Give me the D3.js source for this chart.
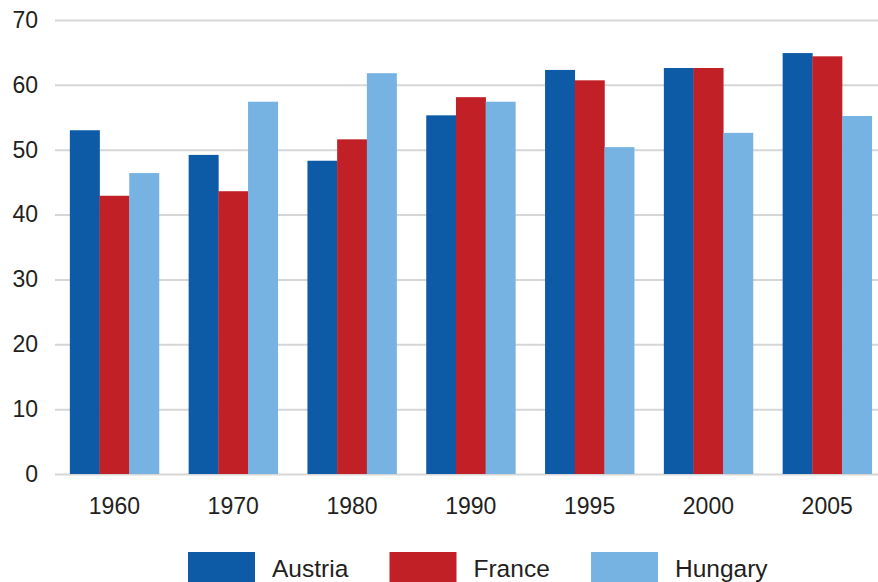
<!DOCTYPE html>
<html>
<head>
<meta charset="utf-8">
<script src="https://cdn.jsdelivr.net/npm/d3@7"></script>
<style>
  html, body { margin: 0; padding: 0; background: #fff; }
  svg { display: block; }
  text { font-family: "Liberation Sans", Arial, sans-serif; fill: #231f20; }
</style>
</head>
<body>
<svg id="chart" width="878" height="582"></svg>
<script>
const categories = ["1960", "1970", "1980", "1990", "1995", "2000", "2005"];
const seriesNames = ["Austria", "France", "Hungary"];
const austria = [53.0, 49.2, 48.3, 55.3, 62.3, 62.6, 64.9];
const france  = [42.9, 43.6, 51.6, 58.1, 60.7, 62.6, 64.4];
const hungary = [46.4, 57.4, 61.8, 57.4, 50.4, 52.6, 55.2];
const yTicks = [0, 10, 20, 30, 40, 50, 60, 70];
const colors = ["#0d5aa7", "#c02026", "#77b3e2"];

const series = [austria, france, hungary];
const svg = d3.select("#chart");

const y = d3.scaleLinear().domain([0, 70]).range([474, 20]);
const x0 = d3.scaleBand().domain(categories).range([55, 886.6]).paddingInner(0.25).paddingOuter(0.125);
const x1 = d3.scaleBand().domain(seriesNames).range([0, x0.bandwidth()]);
const color = d3.scaleOrdinal().domain(seriesNames).range(colors);

// gridlines
const yAxis = d3.axisLeft(y).tickValues(yTicks).tickSize(-(878 - 55)).tickPadding(16);
const gy = svg.append("g").attr("transform", "translate(55,0)").call(yAxis);
gy.select(".domain").remove();
gy.selectAll(".tick line").attr("stroke", "#d6d6d6").attr("stroke-width", 2);
gy.selectAll(".tick text").attr("font-size", 23).attr("fill", "#231f20")
  .attr("font-family", "'Liberation Sans', Arial, sans-serif").attr("x", -17);

// bars
const groups = svg.append("g").selectAll("g")
  .data(categories).join("g")
  .attr("transform", d => `translate(${x0(d)},0)`);
groups.selectAll("rect")
  .data((d, i) => seriesNames.map((s, j) => ({ s, v: series[j][i] })))
  .join("rect")
  .attr("x", d => x1(d.s))
  .attr("width", x1.bandwidth() + 0.3)
  .attr("y", d => y(d.v))
  .attr("height", d => y(0) - y(d.v))
  .attr("fill", d => color(d.s));

// x axis labels
const xAxis = d3.axisBottom(x0).tickSize(0).tickPadding(0);
const gx = svg.append("g").attr("transform", "translate(0,474)").call(xAxis);
gx.select(".domain").remove();
gx.selectAll(".tick text").attr("font-size", 23).attr("fill", "#231f20")
  .attr("font-family", "'Liberation Sans', Arial, sans-serif")
  .attr("dy", null).attr("y", 40);

// legend
const legend = svg.append("g").selectAll("g")
  .data(seriesNames).join("g")
  .attr("transform", (d, i) => `translate(${188 + i * 201.5},552)`);
legend.append("rect").attr("width", 67).attr("height", 30).attr("fill", d => color(d));
legend.append("text").attr("x", 84).attr("y", 25).attr("font-size", 24.5).text(d => d);
</script>
</body>
</html>
